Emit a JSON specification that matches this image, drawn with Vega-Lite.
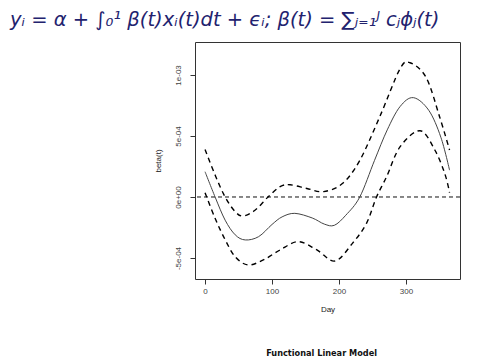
{
  "$schema": "https://vega.github.io/schema/vega-lite/v6.json",
  "autosize": {"type": "none"},
  "width": 265,
  "height": 237,
  "padding": {"left": 195, "top": 42, "right": 20, "bottom": 81},
  "background": "white",
  "config": {
    "view": {"stroke": "#333333", "strokeWidth": 1},
    "font": "Liberation Sans"
  },
  "title": {
    "text": "yᵢ = α + ∫₀¹ β(t)xᵢ(t)dt + ϵᵢ;  β(t) = ∑ⱼ₌₁ᴶ cⱼϕⱼ(t)",
    "orient": "top",
    "anchor": "start",
    "frame": "group",
    "dx": -185,
    "dy": 17,
    "offset": 14,
    "baseline": "alphabetic",
    "font": "DejaVu Sans",
    "fontStyle": "italic",
    "fontWeight": "normal",
    "fontSize": 19.5,
    "color": "#22226e"
  },
  "datasets": {
    "curves": [
      {"day": 0, "value": 0.000207, "series": "fit"},
      {"day": 15, "value": 0.0, "series": "fit"},
      {"day": 30, "value": -0.00019, "series": "fit"},
      {"day": 45, "value": -0.00031, "series": "fit"},
      {"day": 60, "value": -0.000352, "series": "fit"},
      {"day": 80, "value": -0.000325, "series": "fit"},
      {"day": 100, "value": -0.000225, "series": "fit"},
      {"day": 115, "value": -0.000163, "series": "fit"},
      {"day": 134, "value": -0.000134, "series": "fit"},
      {"day": 160, "value": -0.000172, "series": "fit"},
      {"day": 178, "value": -0.000222, "series": "fit"},
      {"day": 193, "value": -0.000232, "series": "fit"},
      {"day": 210, "value": -0.00015, "series": "fit"},
      {"day": 231, "value": 0.0, "series": "fit"},
      {"day": 253, "value": 0.0003, "series": "fit"},
      {"day": 272, "value": 0.00055, "series": "fit"},
      {"day": 291, "value": 0.00074, "series": "fit"},
      {"day": 311, "value": 0.000814, "series": "fit"},
      {"day": 334, "value": 0.00071, "series": "fit"},
      {"day": 352, "value": 0.00049, "series": "fit"},
      {"day": 365, "value": 0.00022, "series": "fit"},
      {"day": 0, "value": 0.00039, "series": "upper"},
      {"day": 15, "value": 0.00018, "series": "upper"},
      {"day": 30, "value": 0.0, "series": "upper"},
      {"day": 45, "value": -0.00012, "series": "upper"},
      {"day": 57, "value": -0.000156, "series": "upper"},
      {"day": 75, "value": -0.000107, "series": "upper"},
      {"day": 94, "value": 0.0, "series": "upper"},
      {"day": 112, "value": 0.000085, "series": "upper"},
      {"day": 127, "value": 0.0001, "series": "upper"},
      {"day": 152, "value": 0.00007, "series": "upper"},
      {"day": 177, "value": 0.000044, "series": "upper"},
      {"day": 205, "value": 0.00011, "series": "upper"},
      {"day": 231, "value": 0.0003, "series": "upper"},
      {"day": 261, "value": 0.00066, "series": "upper"},
      {"day": 291, "value": 0.00105, "series": "upper"},
      {"day": 306, "value": 0.0011, "series": "upper"},
      {"day": 330, "value": 0.00098, "series": "upper"},
      {"day": 350, "value": 0.00066, "series": "upper"},
      {"day": 365, "value": 0.000385, "series": "upper"},
      {"day": 0, "value": 0.000035, "series": "lower"},
      {"day": 15, "value": -0.000175, "series": "lower"},
      {"day": 30, "value": -0.00035, "series": "lower"},
      {"day": 45, "value": -0.00049, "series": "lower"},
      {"day": 64, "value": -0.000557, "series": "lower"},
      {"day": 87, "value": -0.000516, "series": "lower"},
      {"day": 112, "value": -0.000434, "series": "lower"},
      {"day": 139, "value": -0.000366, "series": "lower"},
      {"day": 167, "value": -0.000434, "series": "lower"},
      {"day": 194, "value": -0.000525, "series": "lower"},
      {"day": 220, "value": -0.00038, "series": "lower"},
      {"day": 241, "value": -0.000216, "series": "lower"},
      {"day": 256, "value": 0.0, "series": "lower"},
      {"day": 271, "value": 0.000166, "series": "lower"},
      {"day": 291, "value": 0.00041, "series": "lower"},
      {"day": 321, "value": 0.000543, "series": "lower"},
      {"day": 343, "value": 0.000385, "series": "lower"},
      {"day": 358, "value": 0.00019, "series": "lower"},
      {"day": 365, "value": 0.000035, "series": "lower"}
    ],
    "zero": [{"value": 0}],
    "footer": [{"label": "Functional Linear Model"}]
  },
  "layer": [
    {
      "data": {"name": "zero"},
      "mark": {"type": "rule", "color": "#111111", "strokeWidth": 1, "strokeDash": [4, 3]},
      "encoding": {
        "y": {"field": "value", "type": "quantitative", "scale": {"domain": [-0.000672, 0.00127], "nice": false, "zero": false}}
      }
    },
    {
      "data": {"name": "curves"},
      "transform": [{"filter": "datum.series == 'fit'"}],
      "mark": {"type": "line", "color": "#444444", "strokeWidth": 1, "interpolate": "cardinal"},
      "encoding": {
        "x": {"field": "day", "type": "quantitative"},
        "y": {"field": "value", "type": "quantitative"},
        "detail": {"field": "series"}
      }
    },
    {
      "data": {"name": "curves"},
      "transform": [{"filter": "datum.series != 'fit'"}],
      "mark": {"type": "line", "color": "#000000", "strokeWidth": 1.4, "strokeDash": [5, 4], "interpolate": "cardinal"},
      "encoding": {
        "x": {"field": "day", "type": "quantitative"},
        "y": {"field": "value", "type": "quantitative"},
        "detail": {"field": "series"}
      }
    },
    {
      "data": {"name": "footer"},
      "mark": {"type": "text", "font": "DejaVu Sans", "fontWeight": "bold", "fontSize": 8.2, "color": "#111111", "clip": false, "align": "center", "baseline": "middle"},
      "encoding": {
        "text": {"field": "label"},
        "x": {"datum": 174},
        "y": {"datum": -0.001287}
      }
    }
  ],
  "encoding": {
    "x": {
      "type": "quantitative",
      "scale": {"domain": [-15, 380.6], "nice": false, "zero": false},
      "axis": {
        "title": "Day",
        "values": [0, 100, 200, 300],
        "format": "d",
        "grid": false,
        "domain": false,
        "ticks": true,
        "tickSize": 5,
        "tickColor": "#333333",
        "labelFontSize": 8,
        "labelColor": "#444444",
        "labelPadding": 3,
        "titleFontSize": 8,
        "titleFontWeight": "normal",
        "titleColor": "#222222",
        "titlePadding": 10
      }
    },
    "y": {
      "type": "quantitative",
      "axis": {
        "title": "beta(t)",
        "values": [-0.0005, 0, 0.0005, 0.001],
        "labelExpr": "datum.value < -0.0004 ? '-5e-04' : (datum.value < 0.0001 ? '0e+00' : (datum.value < 0.0007 ? '5e-04' : '1e-03'))",
        "grid": false,
        "domain": false,
        "ticks": true,
        "tickSize": 5,
        "tickColor": "#333333",
        "labelAngle": -90,
        "labelAlign": "center",
        "labelBaseline": "bottom",
        "labelFontSize": 8,
        "labelColor": "#444444",
        "labelPadding": 8,
        "titleFontSize": 8,
        "titleFontWeight": "normal",
        "titleColor": "#222222",
        "titlePadding": 12
      }
    }
  }
}
